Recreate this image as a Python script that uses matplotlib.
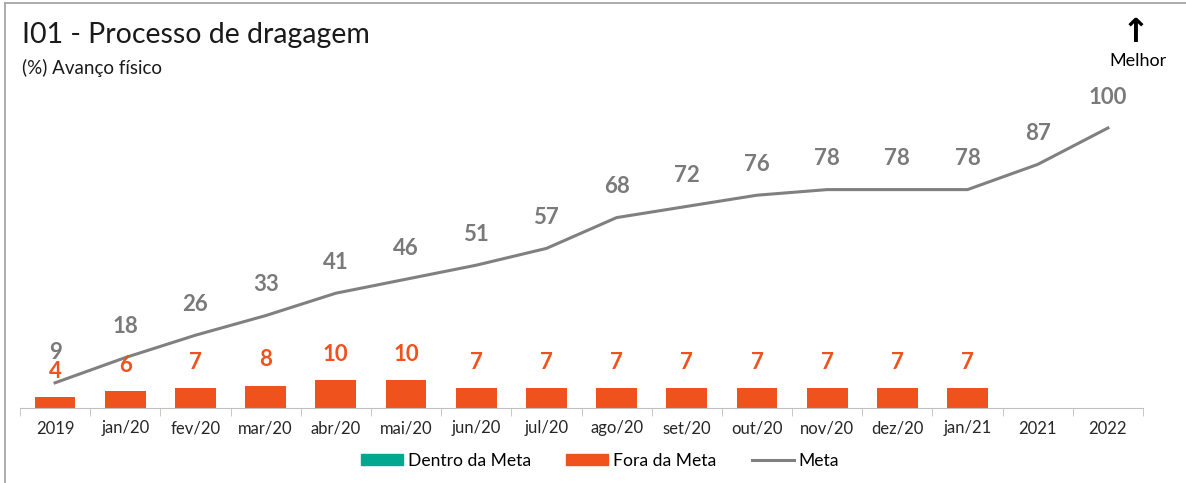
import matplotlib.pyplot as plt
from matplotlib.patches import Patch
from matplotlib.lines import Line2D

plt.rcParams['font.family'] = ['Lato', 'DejaVu Sans']

categorias = ['2019', 'jan/20', 'fev/20', 'mar/20', 'abr/20', 'mai/20', 'jun/20', 'jul/20',
              'ago/20', 'set/20', 'out/20', 'nov/20', 'dez/20', 'jan/21', '2021', '2022']
fora_meta = [4, 6, 7, 8, 10, 10, 7, 7, 7, 7, 7, 7, 7, 7]
meta = [9, 18, 26, 33, 41, 46, 51, 57, 68, 72, 76, 78, 78, 78, 87, 100]

laranja = '#F0521E'
cinza = '#808080'
verde = '#00A88F'

fig = plt.figure(figsize=(11.86, 4.83), dpi=100)
ax = fig.add_axes([20 / 1186, 75 / 483, 1123 / 1186, 308 / 483])

x = list(range(len(categorias)))
xb = x[:len(fora_meta)]
ax.bar(xb, fora_meta, width=0.58, color=laranja, zorder=2)
ax.plot(x, meta, color=cinza, lw=2.2, zorder=3)

for i, v in zip(xb, fora_meta):
    ax.annotate(str(v), (i, v), xytext=(0, 11), textcoords='offset points',
                ha='center', va='bottom', color=laranja, fontsize=16, fontweight='bold')
for i, v in zip(x, meta):
    ax.annotate(str(v), (i, v), xytext=(0, 14.5), textcoords='offset points',
                ha='center', va='bottom', color='#7a7a7a', fontsize=16, fontweight='bold')

ax.set_xlim(-0.5, len(categorias) - 0.5)
ax.set_ylim(0, 110)
ax.set_yticks([])
for s in ['top', 'right', 'left']:
    ax.spines[s].set_visible(False)
ax.spines['bottom'].set_color('#bfbfbf')
ax.set_xticks(x)
ax.set_xticklabels(categorias, fontsize=12, color='#262626')
ax.set_xticks([i - 0.5 for i in range(len(categorias) + 1)], minor=True)
ax.tick_params(axis='x', which='major', length=0, pad=9)
ax.tick_params(axis='x', which='minor', length=6, color='#bfbfbf')

fig.text(22 / 1186, 1 - 35 / 483, 'I01 - Processo de dragagem', fontsize=20.5,
         va='center', ha='left', color='#1a1a1a')
fig.text(22 / 1186, 1 - 68 / 483, '(%) Avanço físico', fontsize=13.5,
         va='center', ha='left', color='#1a1a1a')
fig.text(1138 / 1186, 1 - 61 / 483, 'Melhor', fontsize=13, va='center', ha='center')
fig.text(1136 / 1186, 1 - 32 / 483, '↑', fontsize=24, va='center', ha='center',
         fontweight='bold', family=['DejaVu Sans'])

handles = [Patch(color=verde, label='Dentro da Meta'),
           Patch(color=laranja, label='Fora da Meta'),
           Line2D([0], [0], color=cinza, lw=2.2, label='Meta')]
fig.legend(handles=handles, loc='center', bbox_to_anchor=(600 / 1186, 1 - 461 / 483),
           ncol=3, frameon=False, fontsize=12.6, handlelength=2.4, handleheight=0.6,
           columnspacing=2.0, handletextpad=0.3)

# moldura cinza
fig.add_artist(Line2D([5 / 1186, 1], [1 - 3 / 483, 1 - 3 / 483], color='#a6a6a6', lw=1.3))
fig.add_artist(Line2D([5 / 1186, 5 / 1186], [0, 1 - 3 / 483], color='#a6a6a6', lw=1.3))

fig.savefig('out.png', dpi=100)
